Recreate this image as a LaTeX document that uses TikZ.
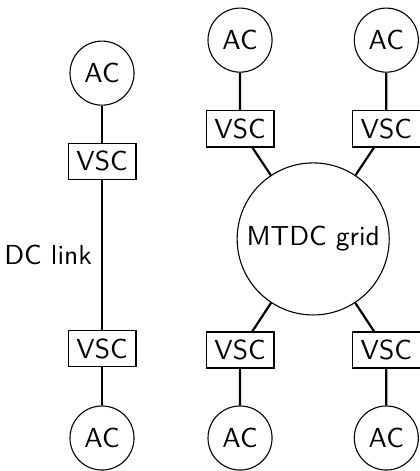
\documentclass[tikz,border=0pt]{standalone}
\usetikzlibrary{positioning}
\tikzset{ac/.style={draw,circle,minimum size=23.3pt,inner sep=1pt,font=\sffamily},
vsc/.style={draw,rectangle,minimum width=24.7pt,minimum height=13.1pt,inner sep=1pt,font=\sffamily},
mtdc/.style={draw,circle,minimum size=55.3pt,inner sep=1pt,font=\sffamily},
link/.style={thick}}
\begin{document}
\begin{tikzpicture}[x=1pt,y=1pt]
\useasboundingbox (0,0) rectangle (152.4,171.3);
% point-to-point link
\node[ac] (acL1) at (37.1,144.7) {AC};
\node[vsc] (vscL1) at (37.1,112.7) {VSC};
\node[vsc] (vscL2) at (37.1,44.4) {VSC};
\node[ac] (acL2) at (37.1,12.0) {AC};
\draw[link](acL1)--(vscL1);
\draw[link](vscL1)--(vscL2)node[midway,left,font=\sffamily]{DC link};
\draw[link](vscL2)--(acL2);
% multi-terminal grid
\node[mtdc] (mtdc) at (113.9,84.4) {MTDC grid};
\node[ac] (ac1) at (87.3,156.7) {AC};
\node[ac] (ac2) at (140.5,156.7) {AC};
\node[ac] (ac3) at (87.3,12.0) {AC};
\node[ac] (ac4) at (140.5,12.0) {AC};
\node[vsc] (vsc1) at (87.3,124.4) {VSC};
\node[vsc] (vsc2) at (140.5,124.4) {VSC};
\node[vsc] (vsc3) at (87.3,44.0) {VSC};
\node[vsc] (vsc4) at (140.5,44.0) {VSC};
\foreach \n in {1,...,4}
\draw[link](ac\n)--(vsc\n)(vsc\n)--(mtdc);
\end{tikzpicture}
\end{document}
